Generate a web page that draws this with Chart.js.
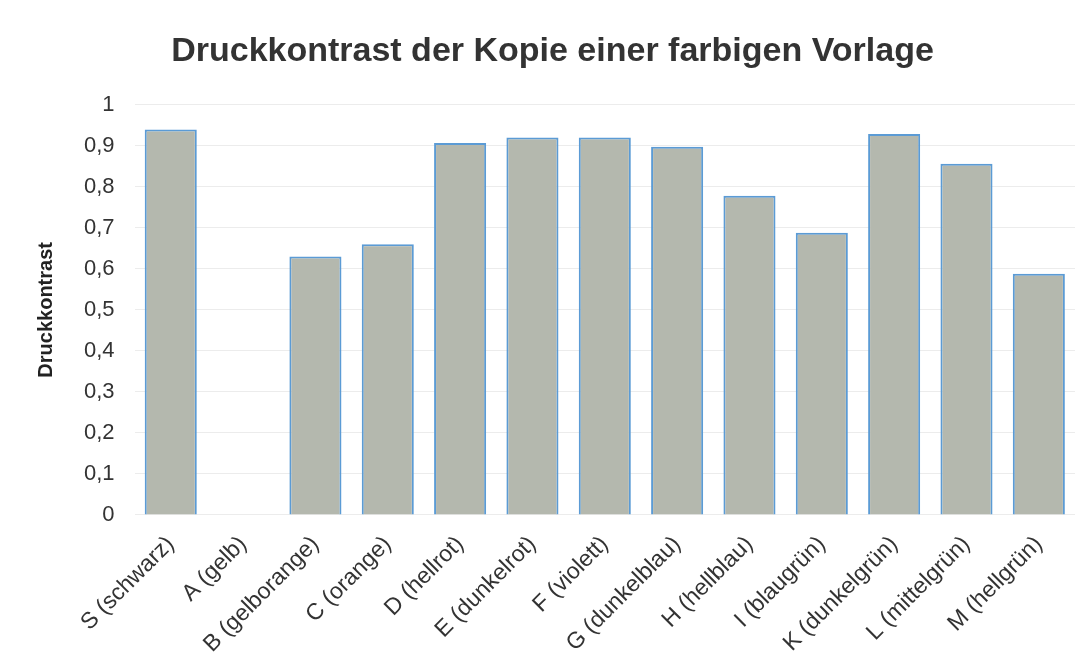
<!DOCTYPE html>
<html>
<head>
<meta charset="utf-8">
<script src="https://cdn.jsdelivr.net/npm/chart.js@4"></script>
<style>
  body { margin: 0; background: #fff; }
  #wrap { width: 1083px; height: 670px; }
</style>
</head>
<body>
<div id="wrap"><canvas id="chart" width="1083" height="670"></canvas></div>
<script>
const categories = ['S (schwarz)', 'A (gelb)', 'B (gelborange)', 'C (orange)', 'D (hellrot)', 'E (dunkelrot)',
    'F (violett)', 'G (dunkelblau)', 'H (hellblau)', 'I (blaugrün)', 'K (dunkelgrün)', 'L (mittelgrün)', 'M (hellgrün)'];
const druckkontrast = [0.94, 0, 0.63, 0.66, 0.907, 0.92, 0.92, 0.898, 0.778, 0.688, 0.929, 0.856, 0.588];
const yTickLabels = ['0', '0,1', '0,2', '0,3', '0,4', '0,5', '0,6', '0,7', '0,8', '0,9', '1'];

Chart.defaults.font.family = '"Liberation Sans", Arial, sans-serif';
Chart.defaults.color = '#333';

const ctx = document.getElementById('chart').getContext('2d');
new Chart(ctx, {
    type: 'bar',
    data: {
        labels: categories,
        datasets: [{
            label: 'Druckkontrast',
            data: druckkontrast,
            backgroundColor: '#b4b8ae',
            borderColor: '#5b9bd5',
            borderWidth: 2,
            barPercentage: 0.72,
            categoryPercentage: 1
        }]
    },
    options: {
        responsive: false,
        animation: false,
        layout: { padding: { left: 30, right: 8, top: 0, bottom: 4 } },
        plugins: {
            legend: { display: false },
            tooltip: { enabled: false },
            title: {
                display: true,
                text: 'Druckkontrast der Kopie einer farbigen Vorlage',
                font: { size: 34, weight: 'bold' },
                color: '#333',
                padding: { top: 31, bottom: 33 }
            }
        },
        scales: {
            x: {
                grid: { display: false },
                border: { display: false },
                ticks: {
                    minRotation: 45,
                    maxRotation: 45,
                    font: { size: 23 },
                    color: '#333',
                    padding: 8
                }
            },
            y: {
                min: 0,
                max: 1,
                ticks: {
                    stepSize: 0.1,
                    font: { size: 22 },
                    color: '#333',
                    padding: 20,
                    callback: (v, i) => yTickLabels[i]
                },
                grid: { color: '#ececec', drawTicks: false },
                border: { display: false },
                title: {
                    display: true,
                    text: 'Druckkontrast',
                    font: { size: 20, weight: 'bold' },
                    color: '#222',
                    padding: { bottom: 6 }
                }
            }
        }
    }
});
</script>
</body>
</html>
